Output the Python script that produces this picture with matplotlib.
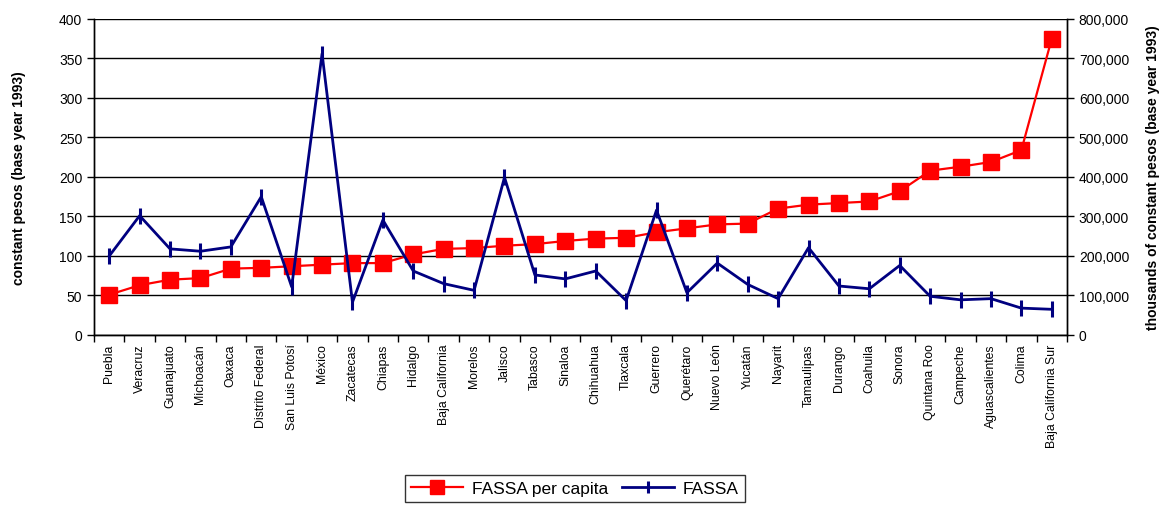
import numpy as np
from matplotlib import pyplot as plt
from matplotlib.ticker import FuncFormatter, FixedLocator

plt.rcParams['font.family'] = ['Liberation Sans', 'DejaVu Sans']

# datos
states = ['Puebla', 'Veracruz', 'Guanajuato', 'Michoacán', 'Oaxaca', 'Distrito Federal',
          'San Luis Potosí', 'México', 'Zacatecas', 'Chiapas', 'Hidalgo', 'Baja California',
          'Morelos', 'Jalisco', 'Tabasco', 'Sinaloa', 'Chihuahua', 'Tlaxcala', 'Guerrero',
          'Querétaro', 'Nuevo León', 'Yucatán', 'Nayarit', 'Tamaulipas', 'Durango',
          'Coahuila', 'Sonora', 'Quintana Roo', 'Campeche', 'Aguascalientes', 'Colima',
          'Baja California Sur']
per_capita = [51, 63, 70, 72, 84, 85, 87, 89, 91, 91, 102, 109,
              110, 113, 115, 119, 122, 123, 130, 135, 140, 141, 160, 165,
              167, 169, 182, 208, 213, 219, 234, 375]
fassa = [200000, 302000, 218000, 212000, 223000, 350000, 122000, 712000, 83000, 291000,
         162000, 130000, 113000, 399000, 152000, 142000, 162000, 87000, 316000, 107000,
         182000, 128000, 92000, 221000, 124000, 117000, 176000, 98000, 89000, 92000,
         68000, 65000]

x = np.arange(len(states))

fig = plt.figure(figsize=(11.61, 5.06), dpi=100)
ax = fig.add_axes([0.081, 0.336, 0.838, 0.6245])
ax2 = ax.twinx()   # eje derecho, queda encima (linea azul sobre la roja)

# eje izquierdo: pesos per capita
ax.set_ylim(0, 400)
ax.set_yticks(np.arange(0, 401, 50))
ax.yaxis.grid(True, color='black', lw=1)
ax.set_axisbelow(True)
# eje derecho: miles de pesos
ax2.set_ylim(0, 800000)
ax2.set_yticks(np.arange(0, 800001, 100000))
ax2.yaxis.set_major_formatter(FuncFormatter(lambda v, p: f'{int(v):,}'))

l1, = ax.plot(x, per_capita, color='#FF0000', lw=1.6, marker='s', ms=11.5, zorder=3)
l2, = ax2.plot(x, fassa, color='#000080', lw=2, marker='|', ms=11, mew=2.2, zorder=4)

ax.set_xlim(-0.5, len(states) - 0.5)
ax.set_xticks(x)
ax.set_xticklabels(states, rotation=90, fontsize=8.8)
ax.tick_params(axis='x', length=0, pad=6)
ax.xaxis.set_minor_locator(FixedLocator(np.arange(-0.5, len(states), 1)))
ax.tick_params(axis='x', which='minor', length=5, width=1, color='black')

ax.tick_params(axis='y', labelsize=10, length=5, width=1)
ax2.tick_params(axis='y', labelsize=10, length=5, width=1)

for a in (ax, ax2):
    a.spines['top'].set_visible(False)
    for s in ('left', 'right', 'bottom'):
        a.spines[s].set_linewidth(1)

ax.set_ylabel('constant pesos (base year 1993)', fontsize=10, fontweight='bold', labelpad=24)
ax2.set_ylabel('thousands of constant pesos (base year 1993)', fontsize=10,
               fontweight='bold', labelpad=12)

leg = fig.legend([l1, l2], ['FASSA per capita', 'FASSA'], loc='lower center',
                 bbox_to_anchor=(0.495, -0.012), ncol=2, fontsize=12.5, frameon=True,
                 fancybox=False, edgecolor='black', handlelength=3.0, columnspacing=0.8,
                 handletextpad=0.5, borderpad=0.35, markerscale=0.85)
leg.get_frame().set_linewidth(1)

plt.savefig('out.png', dpi=100)
